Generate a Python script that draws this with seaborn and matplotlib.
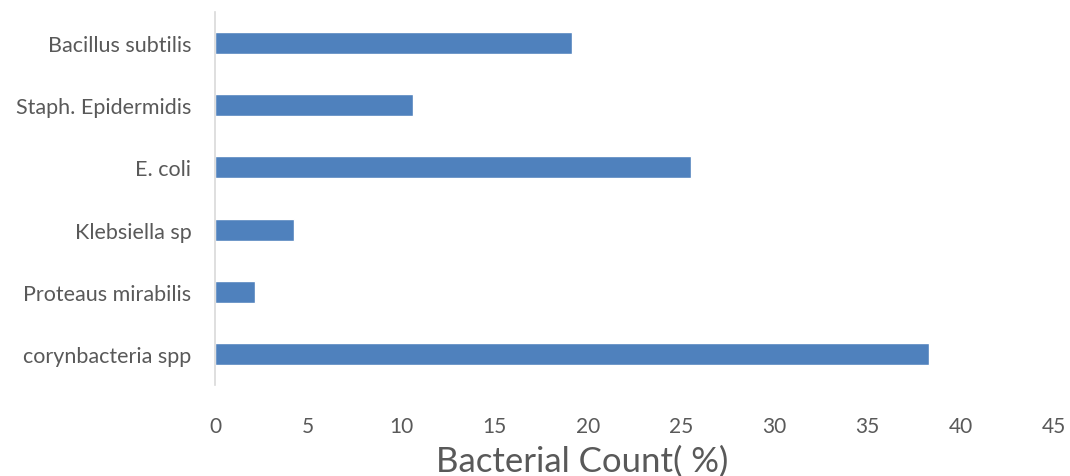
import matplotlib
matplotlib.use("Agg")
import matplotlib.pyplot as plt
import seaborn as sns
import pandas as pd

categories = ["Bacillus subtilis", "Staph. Epidermidis", "E. coli",
              "Klebsiella sp", "Proteaus mirabilis", "corynbacteria spp"]
values = [19.15, 10.64, 25.53, 4.26, 2.13, 38.30]
xticks = [0, 5, 10, 15, 20, 25, 30, 35, 40, 45]

sns.set_theme(style="white")
plt.rcParams['font.family'] = ['Lato', 'DejaVu Sans']

df = pd.DataFrame({"cat": categories, "val": values})

fig = plt.figure(figsize=(10.70, 4.77), dpi=100)
ax = fig.add_axes([215/1070, 1-386/477, (1054-215)/1070, (386-13)/477])
sns.barplot(data=df, x="val", y="cat", orient="h", color="#4F81BD",
            saturation=1, width=0.355, ax=ax)
ax.set_xlim(0, 45)
ax.set_ylim(5.5, -0.5)
ax.set_xticks(xticks)
ax.set_xticklabels([str(t) for t in xticks])
ax.set_xlabel("")
ax.set_ylabel("")
for s in ["top", "right", "bottom"]:
    ax.spines[s].set_visible(False)
ax.spines["left"].set_color("#D9D9D9")
ax.spines["left"].set_linewidth(1.2)
ax.tick_params(axis="x", length=0, pad=22, labelsize=15, labelcolor="#595959")
ax.tick_params(axis="y", length=0, pad=17, labelsize=15.5, labelcolor="#595959")
fig.text(582/1070, 1-462/477, "Bacterial Count( %)", ha="center", va="center",
         fontsize=25, color="#595959")
fig.savefig("out.png", dpi=100)
